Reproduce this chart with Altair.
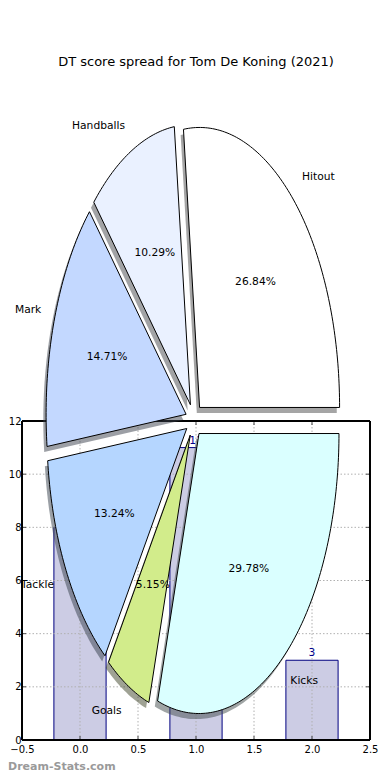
import math
import numpy as np
import pandas as pd
import altair as alt

# ---------------- data ----------------
categories = ["Hitout", "Handballs", "Mark", "Tackle", "Goals", "Kicks"]
percents = [26.84, 10.29, 14.71, 13.24, 5.15, 29.78]
slice_colors = ["#FFFFFF", "#EAF1FF", "#C3D8FF", "#B5D6FF", "#D2EC8B", "#DAFFFF"]

bar_positions = [0, 1, 2]
bar_values = [8, 11, 3]

x_ticks = [-0.5, 0.0, 0.5, 1.0, 1.5, 2.0, 2.5]
y_ticks = [0, 2, 4, 6, 8, 10, 12]

title_text = "DT score spread for Tom De Koning (2021)"
watermark = "Dream-Stats.com"

# ---------------- layout / style ----------------
W, H = 348, 640
PAD = {"left": 14, "top": 92, "right": 12, "bottom": 32}
FONT = "DejaVu Sans"
LABEL_SIZE = 10.7
TICK_SIZE = 10
X_DOMAIN = [-0.5, 2.5]
Y_DOMAIN = [0, 12]
BAR_Y_RANGE = [640, 321]          # pixel rows of y=0 and y=12
BAR_WIDTH = 0.45
PIE_CX, PIE_CY = 172, 320         # pie centre in plot pixels
PIE_RX, PIE_RY = 140, 280         # radius 1 in pixels (stretched pie)
PIE_X_DOMAIN = [-PIE_CX / PIE_RX, (W - PIE_CX) / PIE_RX]
PIE_Y_DOMAIN = [-(H - PIE_CY) / PIE_RY, PIE_CY / PIE_RY]
EXPLODE = 0.06
LABEL_DIST = 1.1
PCT_DIST = 0.6
SHADOW_DX, SHADOW_DY = -0.02, -0.02


def shade(hexcol):
    r, g, b = (int(hexcol[i:i + 2], 16) for i in (1, 3, 5))
    return "#%02x%02x%02x" % (int(0.3 * r), int(0.3 * g), int(0.3 * b))


# ---------------- pie geometry from the percentages ----------------
rows, label_rows = [], []
total = sum(percents)
acc = 0.0
for cat, p, col in zip(categories, percents, slice_colors):
    t1 = 360.0 * acc / total
    t2 = 360.0 * (acc + p) / total
    acc += p
    tm = math.radians((t1 + t2) / 2)
    ax_, ay_ = EXPLODE * math.cos(tm), EXPLODE * math.sin(tm)
    n = max(3, int(math.ceil(t2 - t1)) + 1)
    angs = np.radians(np.linspace(t1, t2, n))
    pts = [(ax_, ay_)] + [(ax_ + math.cos(a), ay_ + math.sin(a)) for a in angs] + [(ax_, ay_)]
    for i, (x, y) in enumerate(pts):
        rows.append({"cat": cat, "i": i, "px": x, "py": y,
                     "sx": x + SHADOW_DX, "sy": y + SHADOW_DY, "shadow": shade(col)})
    label_rows.append({
        "cat": cat,
        "lx": ax_ + LABEL_DIST * math.cos(tm), "ly": ay_ + LABEL_DIST * math.sin(tm),
        "side": "right" if math.cos(tm) > 0 else "left",
        "pct": f"{p:.2f}%",
        "qx": ax_ + PCT_DIST * math.cos(tm), "qy": ay_ + PCT_DIST * math.sin(tm),
    })
pie_df = pd.DataFrame(rows)
lab_df = pd.DataFrame(label_rows)

bar_df = pd.DataFrame({"pos": bar_positions, "value": bar_values})
xt_df = pd.DataFrame({"t": x_ticks})
yt_df = pd.DataFrame({"t": y_ticks})
xg_df = pd.DataFrame({"t": [t for t in x_ticks if X_DOMAIN[0] < t < X_DOMAIN[1]]})
yg_df = pd.DataFrame({"t": [t for t in y_ticks if Y_DOMAIN[0] < t < Y_DOMAIN[1]]})

# ---------------- bar axes ----------------
bx = alt.Scale(domain=X_DOMAIN, nice=False, zero=False)
by = alt.Scale(domain=Y_DOMAIN, range=BAR_Y_RANGE, nice=False, zero=False)

x_axis = alt.Axis(values=x_ticks, format=".1f", grid=False, domain=False, ticks=False,
                  labelFontSize=TICK_SIZE, labelColor="black", labelPadding=4, labelFont=FONT,
                  labelFlush=False, labelOverlap=False, title=None)
y_axis = alt.Axis(values=y_ticks, format="d", grid=False, domain=False, ticks=False,
                  labelFontSize=TICK_SIZE, labelColor="black", labelPadding=1, labelFont=FONT,
                  labelFlush=False, labelOverlap=False, title=None)

bars = alt.Chart(bar_df).mark_bar(fill="#CCCCE4", stroke="#000080", strokeWidth=1).transform_calculate(
    x0=f"datum.pos - {BAR_WIDTH / 2}", x1=f"datum.pos + {BAR_WIDTH / 2}"
).encode(
    x=alt.X("x0:Q", scale=bx, axis=x_axis),
    x2="x1:Q",
    y=alt.Y("value:Q", scale=by, axis=y_axis),
    y2=alt.datum(0),
)

grid_style = dict(color="#b0b0b0", strokeWidth=1, strokeDash=[1.5, 2])
grid_v = alt.Chart(xg_df).mark_rule(**grid_style).encode(
    x=alt.X("t:Q", scale=bx), y=alt.datum(Y_DOMAIN[0]), y2=alt.datum(Y_DOMAIN[1]))
grid_h = alt.Chart(yg_df).mark_rule(**grid_style).encode(
    y=alt.Y("t:Q", scale=by), x=alt.datum(X_DOMAIN[0]), x2=alt.datum(X_DOMAIN[1]))

bar_labels = alt.Chart(bar_df).mark_text(
    color="#00008B", fontSize=LABEL_SIZE, font=FONT, baseline="bottom", dy=-2
).encode(x=alt.X("pos:Q", scale=bx), y=alt.Y("value:Q", scale=by), text="value:Q")

spine = dict(color="black", strokeWidth=1)
sp_top = alt.Chart(yt_df).mark_rule(**spine).encode(
    y=alt.datum(Y_DOMAIN[1]), x=alt.datum(X_DOMAIN[0]), x2=alt.datum(X_DOMAIN[1]))
sp_bot = alt.Chart(yt_df).mark_rule(**spine).encode(
    y=alt.datum(Y_DOMAIN[0]), x=alt.datum(X_DOMAIN[0]), x2=alt.datum(X_DOMAIN[1]))
sp_left = alt.Chart(yt_df).mark_rule(**spine).encode(
    x=alt.datum(X_DOMAIN[0]), y=alt.datum(Y_DOMAIN[0]), y2=alt.datum(Y_DOMAIN[1]))
sp_right = alt.Chart(yt_df).mark_rule(**spine).encode(
    x=alt.datum(X_DOMAIN[1]), y=alt.datum(Y_DOMAIN[0]), y2=alt.datum(Y_DOMAIN[1]))

tick = dict(color="black", thickness=1, size=4)
tk_left = alt.Chart(yt_df).mark_tick(orient="horizontal", xOffset=2, **tick).encode(
    x=alt.datum(X_DOMAIN[0]), y=alt.Y("t:Q", scale=by))
tk_right = alt.Chart(yt_df).mark_tick(orient="horizontal", xOffset=-2, **tick).encode(
    x=alt.datum(X_DOMAIN[1]), y=alt.Y("t:Q", scale=by))
tk_bot = alt.Chart(xt_df).mark_tick(orient="vertical", yOffset=-2, **tick).encode(
    y=alt.datum(Y_DOMAIN[0]), x=alt.X("t:Q", scale=bx))
tk_top = alt.Chart(xt_df).mark_tick(orient="vertical", yOffset=2, **tick).encode(
    y=alt.datum(Y_DOMAIN[1]), x=alt.X("t:Q", scale=bx))

wm = alt.Chart(pd.DataFrame({"w": [watermark]})).mark_text(
    align="left", baseline="middle", fontSize=11, font=FONT, color="#9a9a9a", fontWeight="bold"
).encode(x=alt.value(-PAD["left"]), y=alt.value(667), text="w:N")

bar_group = alt.layer(bars, grid_v, grid_h, bar_labels, sp_top, sp_bot, sp_left, sp_right,
                      tk_left, tk_right, tk_bot, tk_top, wm)

# ---------------- pie ----------------
pxs = alt.Scale(domain=PIE_X_DOMAIN, nice=False, zero=False)
pys = alt.Scale(domain=PIE_Y_DOMAIN, nice=False, zero=False)

shadows = alt.Chart(pie_df).mark_line(strokeWidth=0, fillOpacity=0.5).encode(
    x=alt.X("sx:Q", scale=pxs, axis=None),
    y=alt.Y("sy:Q", scale=pys, axis=None),
    fill=alt.Fill("shadow:N", scale=None, legend=None),
    detail="cat:N",
    order=alt.Order("i:Q"),
)
slices = alt.Chart(pie_df).mark_line(stroke="black", strokeWidth=1).encode(
    x=alt.X("px:Q", scale=pxs, axis=None),
    y=alt.Y("py:Q", scale=pys, axis=None),
    fill=alt.Fill("cat:N", scale=alt.Scale(domain=categories, range=slice_colors), legend=None),
    detail="cat:N",
    order=alt.Order("i:Q"),
)
txt = dict(fontSize=LABEL_SIZE, font=FONT, color="black", baseline="middle")
lab_r = alt.Chart(lab_df).mark_text(align="left", **txt).encode(
    x=alt.X("lx:Q", scale=pxs, axis=None), y=alt.Y("ly:Q", scale=pys, axis=None), text="cat:N"
).transform_filter(alt.datum.side == "right")
lab_l = alt.Chart(lab_df).mark_text(align="right", **txt).encode(
    x=alt.X("lx:Q", scale=pxs, axis=None), y=alt.Y("ly:Q", scale=pys, axis=None), text="cat:N"
).transform_filter(alt.datum.side == "left")
pct = alt.Chart(lab_df).mark_text(align="center", **txt).encode(
    x=alt.X("qx:Q", scale=pxs, axis=None), y=alt.Y("qy:Q", scale=pys, axis=None), text="pct:N")

pie_group = alt.layer(shadows, slices, lab_r, lab_l, pct)

chart = alt.layer(bar_group, pie_group).resolve_scale(
    x="independent", y="independent"
).properties(
    width=W, height=H,
    title=alt.TitleParams(title_text, fontSize=13, font=FONT, fontWeight="normal",
                          color="black", anchor="middle", baseline="bottom", offset=18),
    autosize=alt.AutoSizeParams(type="none"),
    padding=PAD,
).configure(
    font=FONT,
    view=alt.ViewConfig(stroke="transparent", strokeWidth=0),
)

chart.save("out.html", embed_options={"renderer": "svg", "actions": False})
